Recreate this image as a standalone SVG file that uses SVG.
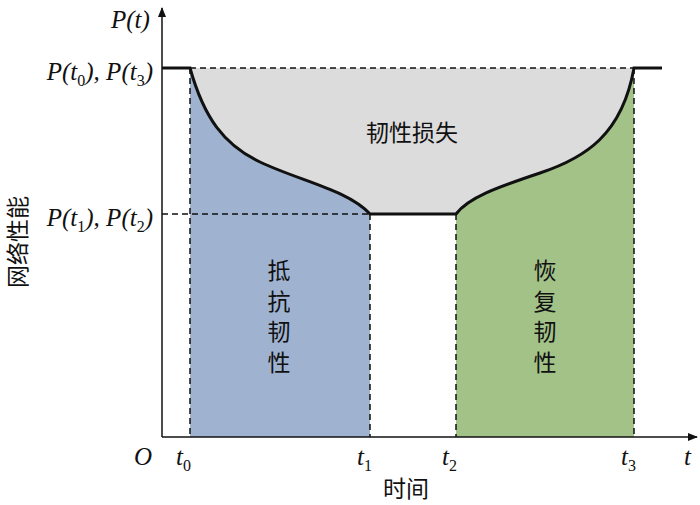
<svg xmlns="http://www.w3.org/2000/svg" width="700" height="505" viewBox="0 0 700 505">
<style>
.m{font-family:"Liberation Serif","Times New Roman",serif;font-style:italic;font-size:25px;fill:#111}
.sub{font-style:normal;font-size:16px}
.cn{font-family:"Noto Sans CJK SC","Noto Sans CJK JP",sans-serif;font-size:23px;fill:#111}
.vt{writing-mode:vertical-rl;letter-spacing:7.5px}
.dash{stroke:#111;stroke-width:1.5;stroke-dasharray:6,4;fill:none}
.curve{stroke:#111;stroke-width:3;fill:none}
.axis{stroke:#111;stroke-width:1.5;fill:none}
</style>
<defs>
<marker id="ar" viewBox="0 0 10 10" refX="9" refY="5" markerWidth="10" markerHeight="10" markerUnits="userSpaceOnUse" orient="auto">
<path d="M0,1 L10,5 L0,9 Z" fill="#111"/>
</marker>
</defs>
<g id="regions">
<path id="loss" d="M190,68 L634,68 C622,135 585,158 540,173 C495,188 468,198 456,214 L370,214 C348,190 300,181 260,162 C224,145 204,118 190,68 Z" fill="#dcdcdc"/>
<path id="resist" d="M190,68 C204,118 224,145 260,162 C300,181 348,190 370,214 L370,437 L190,437 Z" fill="#9fb3d1"/>
<path id="recover" d="M456,214 C468,198 495,188 540,173 C585,158 622,135 634,68 L634,437 L456,437 Z" fill="#a2c288"/>
</g>
<g id="connectors">
<line class="dash" x1="190" y1="68" x2="634" y2="68"/>
<line class="dash" x1="162" y1="214" x2="370" y2="214"/>
<line class="dash" x1="190" y1="68" x2="190" y2="437"/>
<line class="dash" x1="370" y1="214" x2="370" y2="437"/>
<line class="dash" x1="456" y1="214" x2="456" y2="437"/>
<line class="dash" x1="634" y1="68" x2="634" y2="437"/>
<path class="curve" d="M162,68 L190,68 C204,118 224,145 260,162 C300,181 348,190 370,214 L456,214 C468,198 495,188 540,173 C585,158 622,135 634,68 L662,68"/>
<line class="axis" x1="162" y1="437" x2="162" y2="8" marker-end="url(#ar)"/>
<line class="axis" x1="162" y1="437" x2="697" y2="437" marker-end="url(#ar)"/>
</g>
<g id="labels">
<text class="m" x="111" y="28">P(t)</text>
<text class="m" x="153" y="80" text-anchor="end">P(t<tspan class="sub" dy="6">0</tspan><tspan dy="-6">), P(t</tspan><tspan class="sub" dy="6">3</tspan><tspan dy="-6">)</tspan></text>
<text class="m" x="153" y="226" text-anchor="end">P(t<tspan class="sub" dy="6">1</tspan><tspan dy="-6">), P(t</tspan><tspan class="sub" dy="6">2</tspan><tspan dy="-6">)</tspan></text>
<text class="m" x="134" y="465">O</text>
<text class="m" x="176" y="465">t<tspan class="sub" dy="6">0</tspan></text>
<text class="m" x="357" y="465">t<tspan class="sub" dy="6">1</tspan></text>
<text class="m" x="442" y="465">t<tspan class="sub" dy="6">2</tspan></text>
<text class="m" x="621" y="465">t<tspan class="sub" dy="6">3</tspan></text>
<text class="m" x="684" y="465">t</text>
<text class="cn" x="406" y="497" text-anchor="middle">时间</text>
<text class="cn" transform="translate(26,242) rotate(-90)" text-anchor="middle">网络性能</text>
<text class="cn" x="412" y="141" text-anchor="middle">韧性损失</text>
<text class="cn vt" x="279" y="259">抵抗韧性</text>
<text class="cn vt" x="545" y="259">恢复韧性</text>
</g>
</svg>
